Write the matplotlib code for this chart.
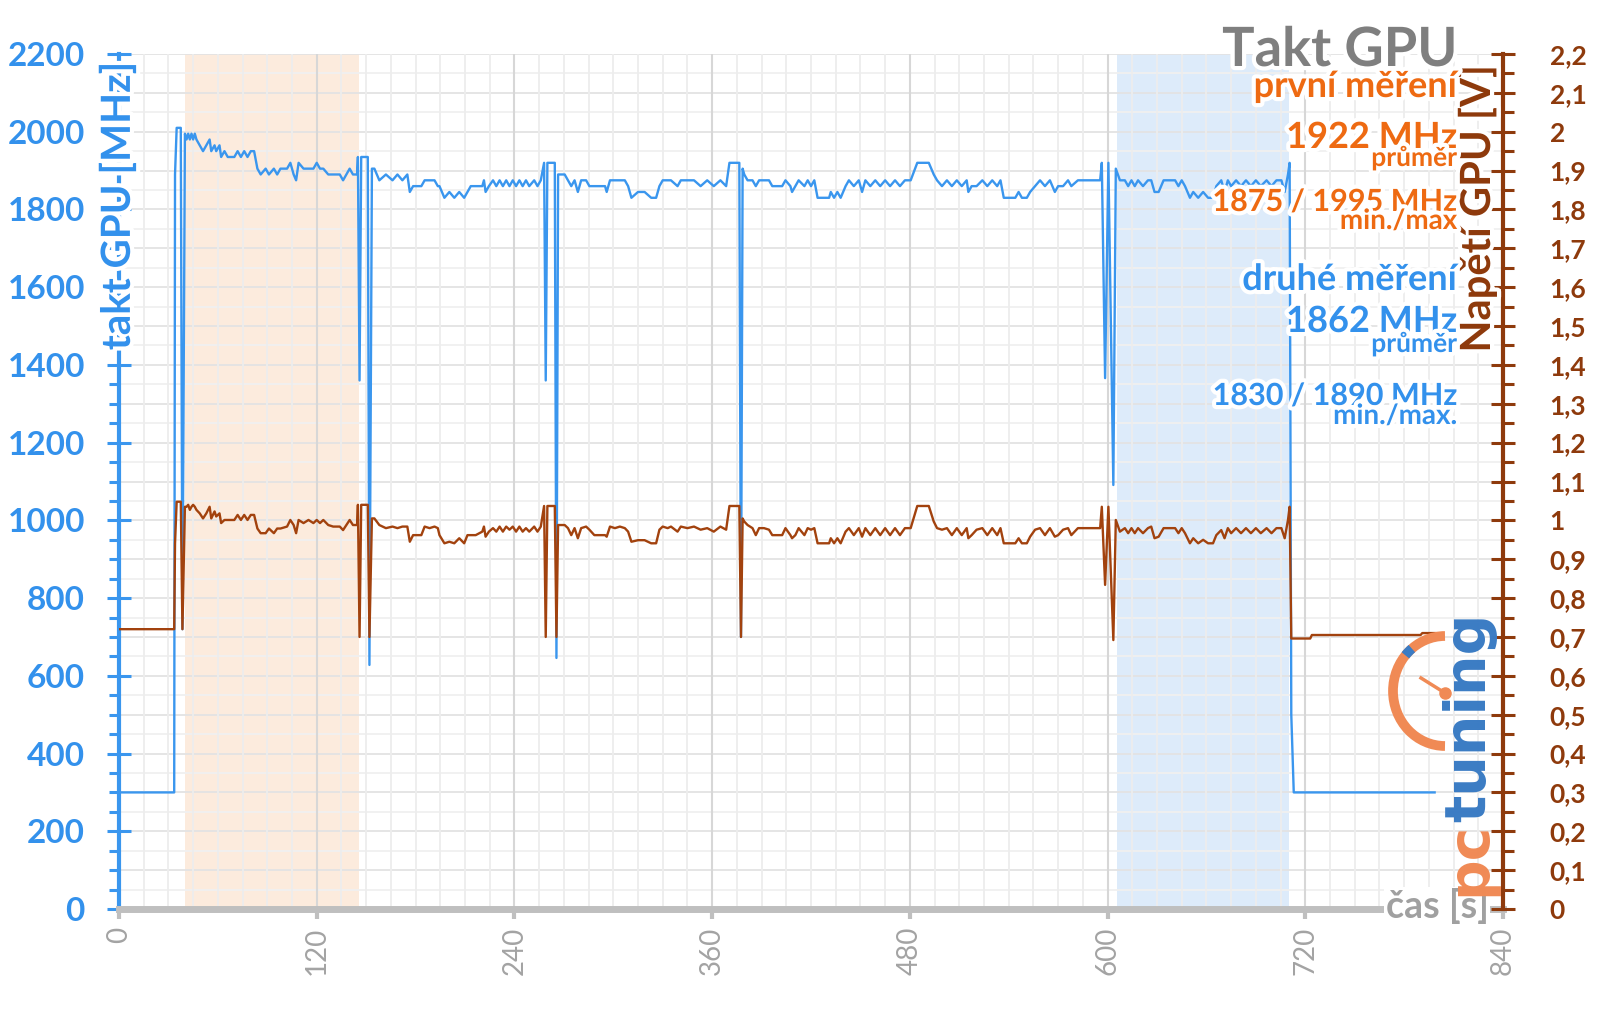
import matplotlib
matplotlib.use("Agg")
import matplotlib.pyplot as plt
import matplotlib.patheffects as pe
from matplotlib.patches import Arc
from matplotlib.ticker import MultipleLocator, FuncFormatter
import numpy as np

plt.rcParams['font.family'] = ['Lato', 'DejaVu Sans']

# time [s]
time_s = [
    0, 33.5, 34, 35, 37.5, 38.5, 40, 41, 42, 43, 44, 45, 46, 47,
    49, 51, 53, 55, 56, 58, 59, 61, 62, 64, 66, 70,
    72, 74, 76, 78, 80, 82, 84, 86, 89, 91, 94, 96, 98,
    102, 104, 106, 107.5, 109, 112, 115, 118, 120, 122, 124, 127, 130,
    134, 136, 138, 140, 142, 144.5,
    145, 146, 147, 151, 152, 153.5,
    155, 158, 162, 166, 169, 172, 175,
    176.5, 178.5, 183.5, 185.5, 188.5, 191.5, 193.5, 194.5,
    197.5, 200.5, 203.5, 206.5, 209.5, 211.5, 213.5, 216.5,
    220.5, 221.5, 222.5, 224.5, 227, 229, 231, 233,
    235, 237, 239, 241, 243, 245, 247, 249,
    252, 254, 256,
    258, 259, 260, 264.5, 265.5, 266.5,
    270.5, 272.5, 274.5, 276.5, 278.5, 280.5, 283.5, 285.5,
    288.5, 295, 296, 298, 301, 304, 307, 309,
    311, 315, 319, 323, 326, 328, 330, 333,
    335, 339, 341, 345, 349, 353, 357, 361,
    365, 368.5,
    370.5, 376.5, 377.5, 378.5,
    379.5, 381.5, 384.5, 386.5, 388.5, 391.5, 394.5, 396.5,
    402.5, 404.5, 407.5, 408.5, 410.5, 412.5, 416, 418,
    420, 422, 424, 427, 431, 432, 434, 436,
    438, 441, 443, 446, 449, 451, 453, 456,
    459, 462, 465, 468, 471, 474, 477, 480.5,
    484.5, 491.5, 494.5, 496.5, 499.5, 502.5, 505.5, 508.5,
    511.5, 514.5, 515.5, 517.5, 520.5, 524, 527, 530,
    533, 535, 537, 541, 544, 546, 548, 551,
    553, 556, 559, 562, 565, 568, 570, 573,
    576, 578, 582, 595.5,
    596.5, 598.5, 600.5, 603.5, 605,
    607.5, 610.5, 612.5, 614.5, 616.5, 618.5, 621.5, 624.5,
    626.5, 628.5, 631, 634, 637, 641, 643, 645,
    647, 650, 652, 655, 658, 661, 664, 666,
    669, 671, 673, 675, 678, 681, 684, 687,
    690, 693, 696.5, 699.5, 702.5, 705.5, 707.5, 709.5,
    710.5,
    711.5, 713, 714, 723, 724, 790, 791, 798.5,
]

# GPU clock [MHz]
clock_mhz = [
    300, 300, 1890, 2010, 2010, 720, 1995, 1980, 1995, 1980, 1995, 1980, 1995, 1980,
    1965, 1950, 1965, 1980, 1950, 1965, 1950, 1965, 1935, 1950, 1935, 1935,
    1950, 1935, 1950, 1935, 1950, 1950, 1905, 1890, 1905, 1890, 1905, 1890, 1905,
    1905, 1920, 1890, 1875, 1920, 1905, 1905, 1905, 1920, 1905, 1905, 1890, 1890,
    1890, 1875, 1890, 1905, 1890, 1890,
    1935, 1360, 1935, 1935, 628, 1905,
    1905, 1875, 1890, 1875, 1890, 1875, 1890,
    1845, 1860, 1860, 1875, 1875, 1875, 1860, 1860,
    1830, 1845, 1830, 1845, 1830, 1845, 1860, 1860,
    1860, 1875, 1845, 1860, 1875, 1860, 1875, 1860,
    1875, 1860, 1875, 1860, 1875, 1860, 1875, 1860,
    1875, 1860, 1875,
    1920, 1360, 1920, 1920, 646, 1890,
    1890, 1875, 1860, 1875, 1845, 1875, 1875, 1860,
    1860, 1860, 1845, 1875, 1875, 1875, 1875, 1860,
    1830, 1845, 1845, 1830, 1830, 1860, 1875, 1875,
    1875, 1860, 1875, 1875, 1875, 1860, 1875, 1860,
    1875, 1860,
    1920, 1920, 700, 1905,
    1890, 1875, 1875, 1860, 1875, 1875, 1875, 1860,
    1860, 1875, 1860, 1845, 1860, 1875, 1860, 1875,
    1860, 1875, 1830, 1830, 1830, 1845, 1830, 1845,
    1830, 1860, 1875, 1860, 1875, 1845, 1875, 1860,
    1875, 1860, 1875, 1860, 1875, 1860, 1875, 1875,
    1920, 1920, 1890, 1875, 1860, 1875, 1860, 1875,
    1860, 1875, 1845, 1860, 1860, 1875, 1860, 1875,
    1860, 1875, 1830, 1830, 1830, 1845, 1830, 1830,
    1845, 1860, 1875, 1860, 1875, 1845, 1860, 1860,
    1875, 1860, 1875, 1875,
    1920, 1366, 1920, 1091, 1905,
    1875, 1875, 1860, 1875, 1860, 1875, 1860, 1875,
    1875, 1845, 1845, 1875, 1875, 1875, 1860, 1875,
    1860, 1830, 1845, 1830, 1845, 1830, 1830, 1860,
    1875, 1845, 1875, 1860, 1875, 1860, 1875, 1860,
    1875, 1860, 1875, 1860, 1875, 1875, 1845, 1890,
    1920,
    500, 300, 300, 300, 300, 300, 300, 300,
]

# GPU voltage [V]
voltage_v = [
    0.72, 0.72, 0.94, 1.048, 1.048, 0.72, 1.035, 1.035, 1.040, 1.027, 1.035, 1.040, 1.035, 1.027,
    1.018, 1.005, 1.018, 1.035, 1.005, 1.023, 1.010, 1.018, 0.993, 1.001, 1.001, 1.001,
    1.014, 1.001, 1.014, 1.001, 1.014, 1.014, 0.979, 0.967, 0.967, 0.979, 0.967, 0.979, 0.979,
    0.984, 1.001, 0.988, 0.967, 1.001, 0.993, 1.001, 0.993, 1.001, 0.993, 1.001, 0.988, 0.984,
    0.984, 0.975, 0.988, 1.001, 0.988, 0.988,
    1.040, 0.70, 1.040, 1.040, 0.70, 1.005,
    1.005, 0.988, 0.980, 0.984, 0.980, 0.984, 0.984,
    0.945, 0.962, 0.962, 0.984, 0.980, 0.984, 0.980, 0.962,
    0.941, 0.945, 0.941, 0.954, 0.941, 0.962, 0.962, 0.962,
    0.971, 0.984, 0.958, 0.971, 0.980, 0.971, 0.984, 0.971,
    0.984, 0.976, 0.984, 0.971, 0.984, 0.971, 0.980, 0.971,
    0.984, 0.971, 0.984,
    1.037, 0.70, 1.037, 1.037, 0.70, 0.988,
    0.988, 0.980, 0.962, 0.980, 0.954, 0.980, 0.984, 0.976,
    0.962, 0.962, 0.958, 0.984, 0.980, 0.984, 0.980, 0.971,
    0.945, 0.949, 0.949, 0.941, 0.941, 0.976, 0.984, 0.980,
    0.984, 0.971, 0.984, 0.980, 0.984, 0.976, 0.980, 0.971,
    0.984, 0.976,
    1.037, 1.037, 0.70, 1.005,
    0.997, 0.988, 0.980, 0.962, 0.980, 0.980, 0.976, 0.962,
    0.962, 0.980, 0.962, 0.954, 0.962, 0.980, 0.962, 0.980,
    0.976, 0.980, 0.941, 0.941, 0.941, 0.954, 0.941, 0.954,
    0.941, 0.971, 0.980, 0.962, 0.980, 0.958, 0.980, 0.962,
    0.980, 0.962, 0.980, 0.962, 0.980, 0.962, 0.980, 0.980,
    1.037, 1.037, 0.997, 0.980, 0.976, 0.980, 0.962, 0.980,
    0.962, 0.980, 0.954, 0.962, 0.976, 0.980, 0.962, 0.980,
    0.962, 0.980, 0.941, 0.941, 0.941, 0.954, 0.941, 0.941,
    0.958, 0.976, 0.980, 0.962, 0.980, 0.958, 0.962, 0.976,
    0.980, 0.962, 0.980, 0.980,
    1.035, 0.834, 1.035, 0.692, 1.001,
    0.971, 0.980, 0.967, 0.980, 0.967, 0.980, 0.967, 0.980,
    0.984, 0.954, 0.958, 0.980, 0.980, 0.980, 0.967, 0.980,
    0.967, 0.941, 0.954, 0.941, 0.950, 0.941, 0.941, 0.962,
    0.975, 0.954, 0.980, 0.967, 0.980, 0.967, 0.980, 0.967,
    0.980, 0.967, 0.980, 0.967, 0.980, 0.980, 0.954, 1.001,
    1.035,
    0.696, 0.696, 0.696, 0.696, 0.705, 0.705, 0.71, 0.71,
]

# highlighted measurement windows [s]
first_window = (40, 145.5)
second_window = (605.5, 710)

assert len(time_s) == len(clock_mhz) == len(voltage_v)

BLUE = '#3A96EE'
BLUE_TXT = '#3391EC'
BROWN = '#A2420E'
BROWN_TXT = '#8E3A0C'
ORANGE = '#EE6A12'
GRAY = '#7F7F7F'

W, H = 1600, 1009
fig = plt.figure(figsize=(16, 10.09), dpi=100)
fig.patch.set_facecolor('white')


def fx(x):
    return x / W


def fy(y):
    return 1 - y / H


ax = fig.add_axes([fx(119), fy(909), (1503 - 119) / W, (909 - 54) / H])
ax.set_xlim(0, 840)
ax.set_ylim(0, 2200)

# grid
for v in np.arange(0, 2201, 50):
    ax.axhline(v, color='#E3E3E3' if v % 100 == 0 else '#F0F0F0', lw=1.3, zorder=0.2)
for v in np.arange(0, 841, 15):
    ax.axvline(v, color='#D7D7D7' if v % 120 == 0 else '#EDEDED', lw=1.5 if v % 120 == 0 else 1.3, zorder=0.2)

ax.axvspan(*first_window, color='#FBD9BC', alpha=0.5, lw=0, zorder=0.1)
ax.axvspan(*second_window, color='#BDD8F6', alpha=0.5, lw=0, zorder=0.1)

ax.plot(time_s, clock_mhz, color=BLUE, lw=1.7, zorder=3)

ax.xaxis.set_major_locator(MultipleLocator(120))
ax.yaxis.set_major_locator(MultipleLocator(200))
ax.yaxis.set_minor_locator(MultipleLocator(50))
ax.tick_params(axis='x', direction='out', length=7, width=3, color='#BFBFBF',
               labelcolor='#A3A3A3', labelsize=20, labelrotation=90, pad=6)
ax.tick_params(axis='y', which='major', direction='inout', length=17, width=2.2,
               color=BLUE, labelcolor=BLUE_TXT, labelsize=24, pad=16)
ax.tick_params(axis='y', which='minor', direction='out', length=7, width=2.2, color=BLUE)
for lab in ax.get_yticklabels():
    lab.set_fontweight('bold')

for s in ['top', 'right']:
    ax.spines[s].set_visible(False)
ax.spines['left'].set_color(BLUE)
ax.spines['left'].set_linewidth(3)
ax.spines['bottom'].set_color('#BFBFBF')
ax.spines['bottom'].set_linewidth(5)
ax.spines['bottom'].set_zorder(4)

ax2 = ax.twinx()
ax2.set_ylim(0, 2.2)
ax2.plot(time_s, voltage_v, color=BROWN, lw=1.7, zorder=3)
ax2.yaxis.set_major_locator(MultipleLocator(0.1))
ax2.yaxis.set_minor_locator(MultipleLocator(0.05))
ax2.yaxis.set_major_formatter(FuncFormatter(
    lambda v, p: f'{v:.1f}'.rstrip('0').rstrip('.').replace('.', ',')))
ax2.tick_params(axis='y', which='major', direction='inout', length=17, width=2.2,
                color=BROWN_TXT, labelcolor=BROWN_TXT, labelsize=19, pad=25)
ax2.tick_params(axis='y', which='minor', direction='out', length=8, width=2.2, color=BROWN_TXT)
for lab in ax2.get_yticklabels():
    lab.set_fontweight('bold')
for s in ['top', 'left', 'bottom']:
    ax2.spines[s].set_visible(False)
ax2.spines['right'].set_color(BROWN_TXT)
ax2.spines['right'].set_linewidth(3)

halo = [pe.withStroke(linewidth=6, foreground='white')]

# axis titles
fig.text(fx(118), fy(206), 'takt GPU [MHz]', rotation=90, ha='center', va='center',
         color=BLUE_TXT, fontsize=29, fontweight='bold', path_effects=halo)
fig.text(fx(1477), fy(209), 'Napětí GPU [V]', rotation=90, ha='center', va='center',
         color=BROWN_TXT, fontsize=30, fontweight='bold', path_effects=halo)
fig.text(fx(1437), fy(906), 'čas [s]', ha='center', va='center', color='#A0A0A0',
         fontsize=27, fontweight='bold',
         bbox=dict(facecolor='white', edgecolor='none', pad=1))

# right-hand annotation block
RX = fx(1457)
notes = [
    ('Takt GPU', 66, 39, GRAY),
    ('první měření', 97, 26, ORANGE),
    ('1922 MHz', 148, 26, ORANGE),
    ('průměr', 166, 19, ORANGE),
    ('1875 / 1995 MHz', 211, 22, ORANGE),
    ('min./max', 229, 20, ORANGE),
    ('druhé měření', 290, 26, BLUE_TXT),
    ('1862 MHz', 332, 26, BLUE_TXT),
    ('průměr', 352, 19, BLUE_TXT),
    ('1830 / 1890 MHz', 405, 22, BLUE_TXT),
    ('min./max.', 424, 20, BLUE_TXT),
]
for txt, y, size, col in notes:
    fig.text(RX, fy(y), txt, ha='right', va='baseline', color=col, fontsize=size,
             fontweight='bold', path_effects=halo, zorder=6)

# pctuning logo
LOGO_OR = '#F08A55'
LOGO_BL = '#3B7CC4'
fig.text(fx(1470), fy(896), 'pc', rotation=90, ha='center', va='bottom',
         color=LOGO_OR, fontsize=41, fontweight='bold', family='DejaVu Sans', zorder=7)
fig.text(fx(1470), fy(822), 'tuning', rotation=90, ha='center', va='bottom',
         color=LOGO_BL, fontsize=41, fontweight='bold', family='DejaVu Sans', zorder=7)
lax = fig.add_axes([0, 0, 1, 1], zorder=5)
lax.set_xlim(0, W)
lax.set_ylim(0, H)
lax.axis('off')
lax.patch.set_visible(False)
lax.add_patch(Arc((1445, H - 691), 104, 110, theta1=90, theta2=270, lw=7, color=LOGO_OR))
lax.add_patch(Arc((1445, H - 691), 104, 110, theta1=128, theta2=138, lw=7, color=LOGO_BL))
lax.plot([1445, 1421], [H - 693, H - 678], color=LOGO_OR, lw=2.5)
lax.plot([1445], [H - 693], 'o', color=LOGO_OR, ms=8)

fig.savefig('out.png', dpi=100, facecolor='white')
